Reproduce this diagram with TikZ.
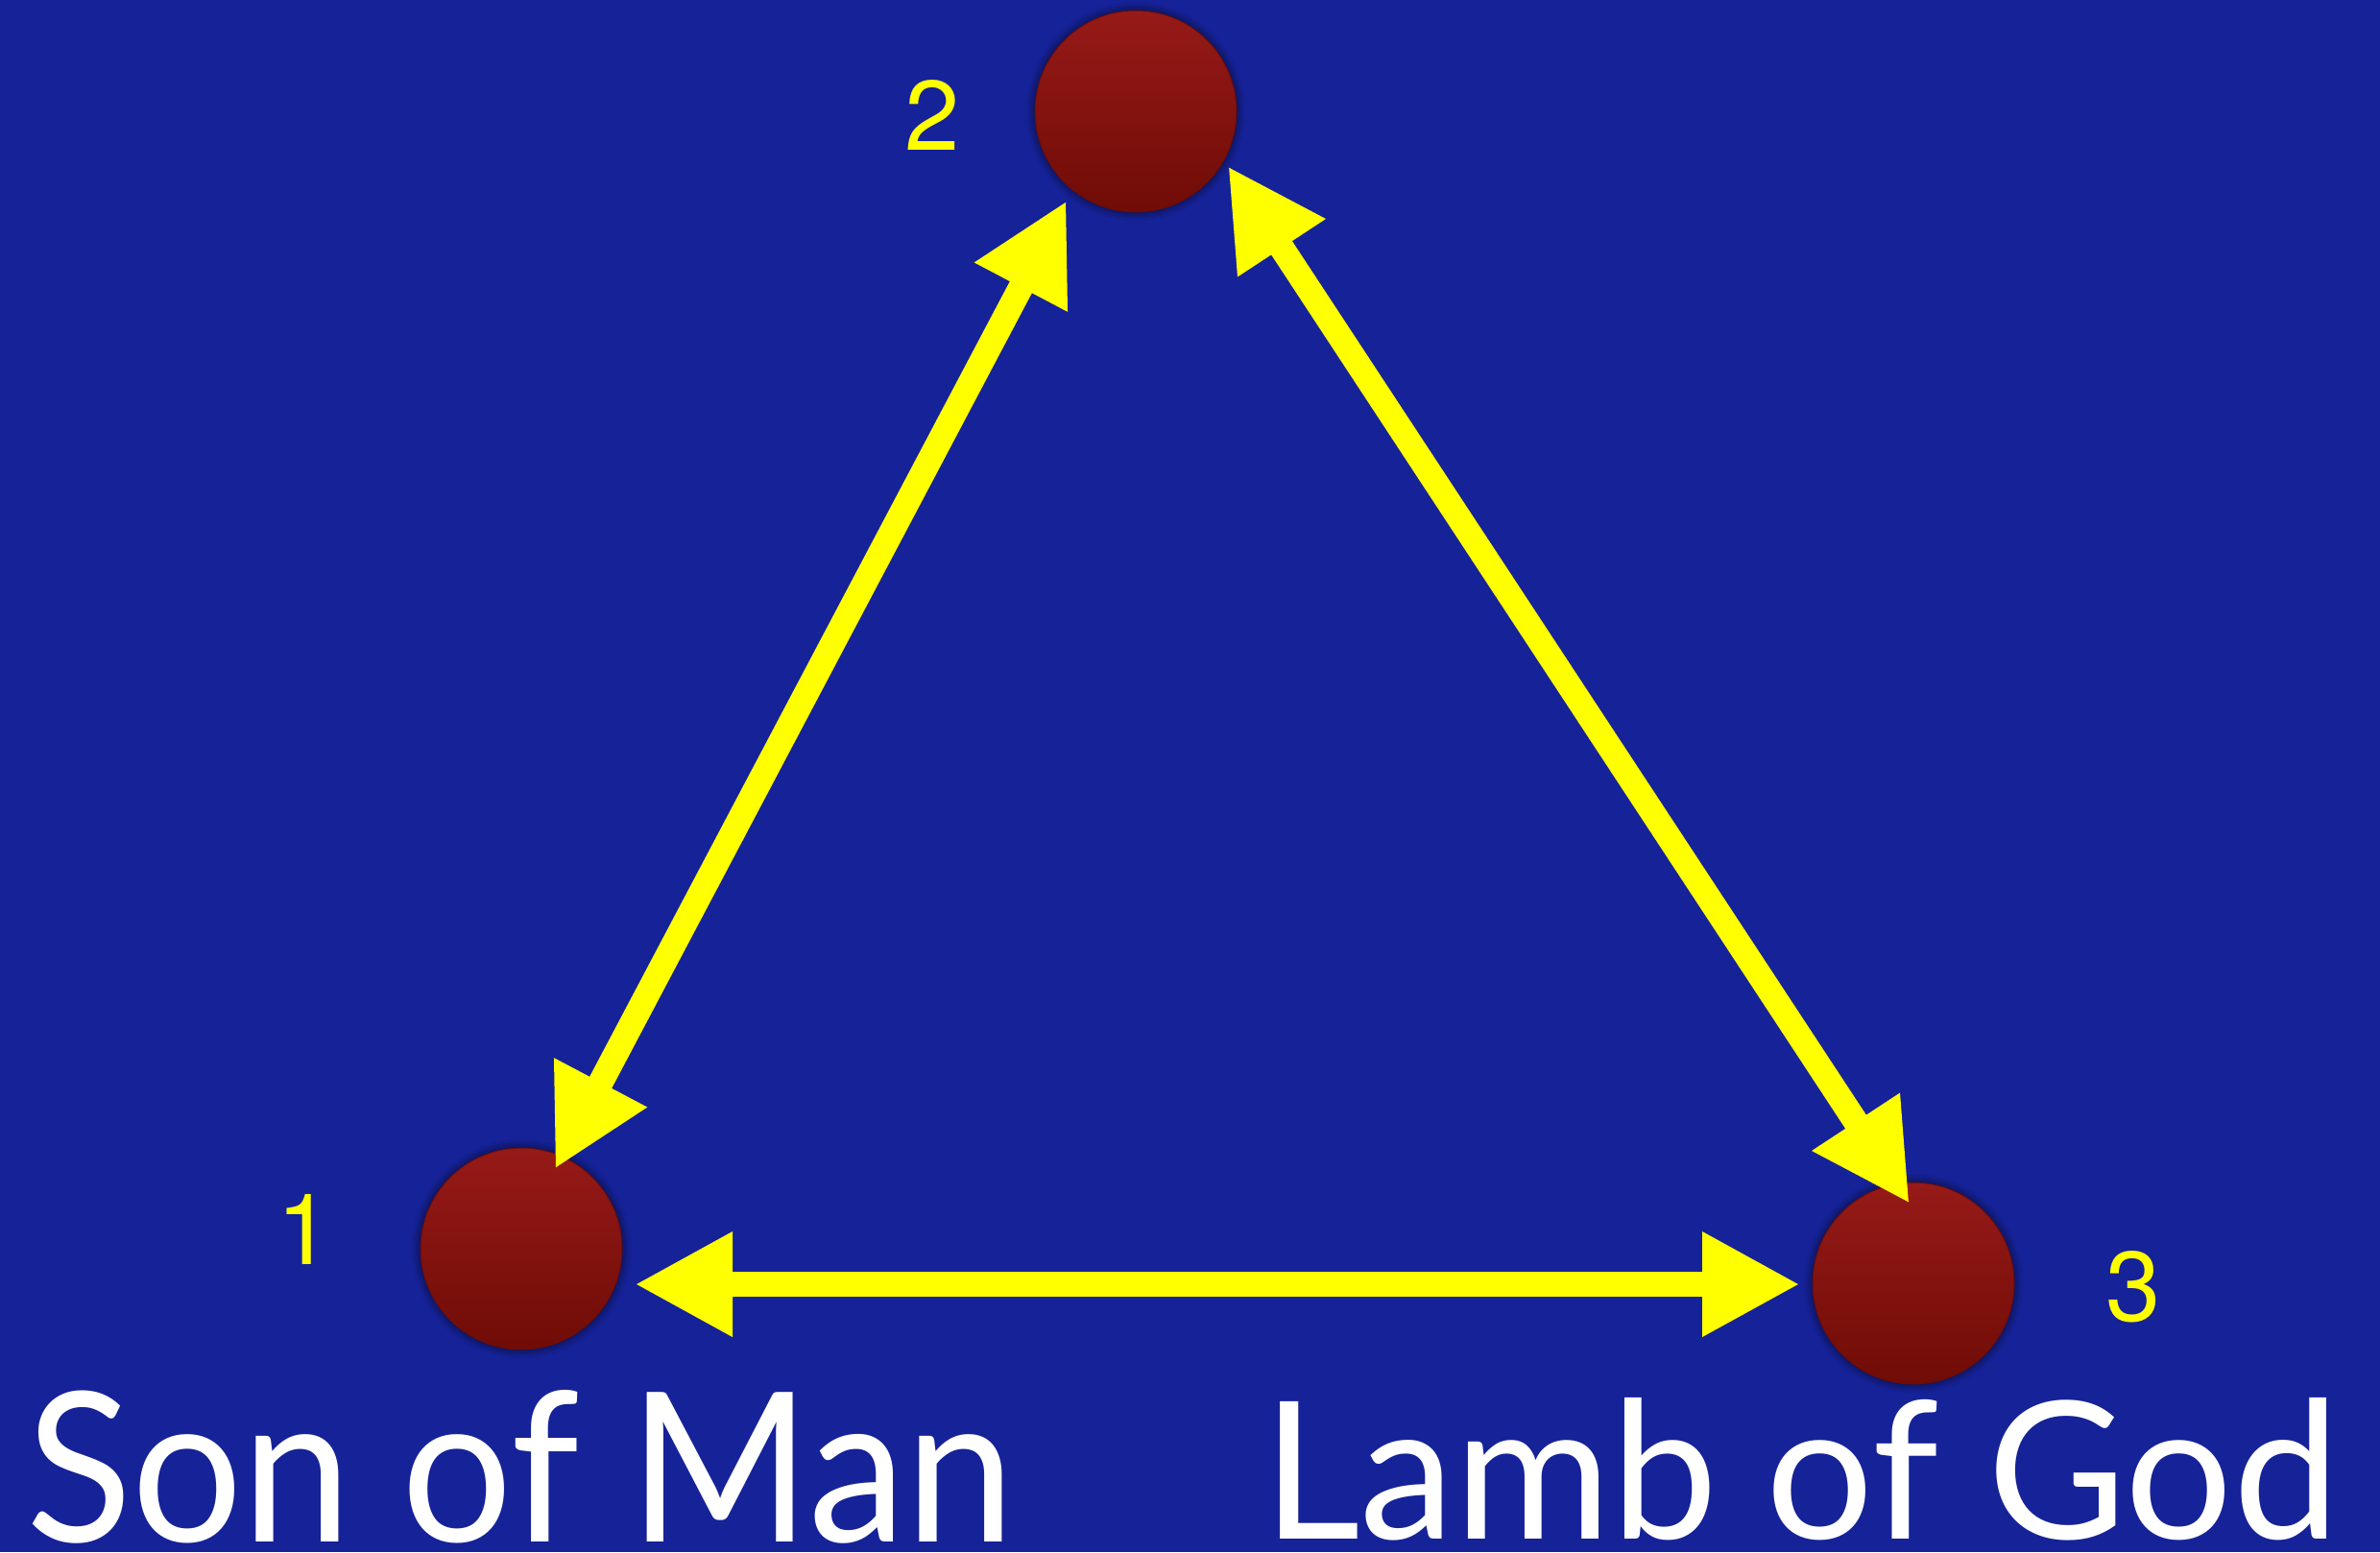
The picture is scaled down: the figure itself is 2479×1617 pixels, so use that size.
\documentclass[tikz,border=0pt]{standalone}
\usepackage{fontspec}
\setmainfont{Lato}
\newfontfamily\numfont{TeX Gyre Heros}
\usetikzlibrary{arrows.meta,shadows.blur}
\definecolor{bgBlue}{RGB}{22,34,152}
\definecolor{ballTop}{RGB}{150,26,24}
\definecolor{ballBot}{RGB}{112,12,6}
\definecolor{ballEdge}{RGB}{100,14,20}
\definecolor{arrowYellow}{RGB}{255,255,0}
\newcommand{\numtxt}[1]{{\numfont\fontsize{103pt}{103pt}\selectfont #1}}
\begin{document}
\begin{tikzpicture}[x=1pt,y=-1pt,
  ball/.style={circle, minimum size=210pt, inner sep=0pt, top color=ballTop, bottom color=ballBot,
    draw=ballEdge, line width=1pt,
    blur shadow={shadow xshift=0pt,shadow yshift=0pt,shadow blur radius=9pt,shadow opacity=75}},
  conn/.style={draw=arrowYellow, fill=arrowYellow, line width=26pt,
    {Triangle[length=102pt,width=102pt]}-{Triangle[length=102pt,width=102pt]}},
  numlabel/.style={text=arrowYellow, inner sep=0pt},
  title/.style={text=white, inner sep=0pt, anchor=base west}]
\fill[bgBlue] (0,0) rectangle (2479,1617);
\useasboundingbox (0,0) rectangle (2479,1617);

\node[ball] (n2) at (1183,116) {};
\node[ball] (n1) at (543,1301) {};
\node[ball] (n3) at (1993,1337) {};

\node[numlabel] (l2) at (971,120) {\numtxt{2}};
\node[numlabel] (l1) at (317,1281) {\numtxt{1}};
\node[numlabel] (l3) at (2222,1341) {\numtxt{3}};

\coordinate (e12a) at (578,1218);
\coordinate (e12b) at (1111,209);
\coordinate (e23a) at (1279,173);
\coordinate (e23b) at (1989,1254);
\coordinate (e13a) at (661,1338);
\coordinate (e13b) at (1875,1338);

\draw[conn] (e12a) -- (e12b);
\draw[conn] (e23a) -- (e23b);
\draw[conn] (e13a) -- (e13b);

\node[title] (t1) at (27,1606) {\resizebox{1029pt}{158pt}{Son of Man}};
\node[title] (t3) at (1315,1603) {\resizebox{1121pt}{147pt}{Lamb of God}};
\end{tikzpicture}
\end{document}
